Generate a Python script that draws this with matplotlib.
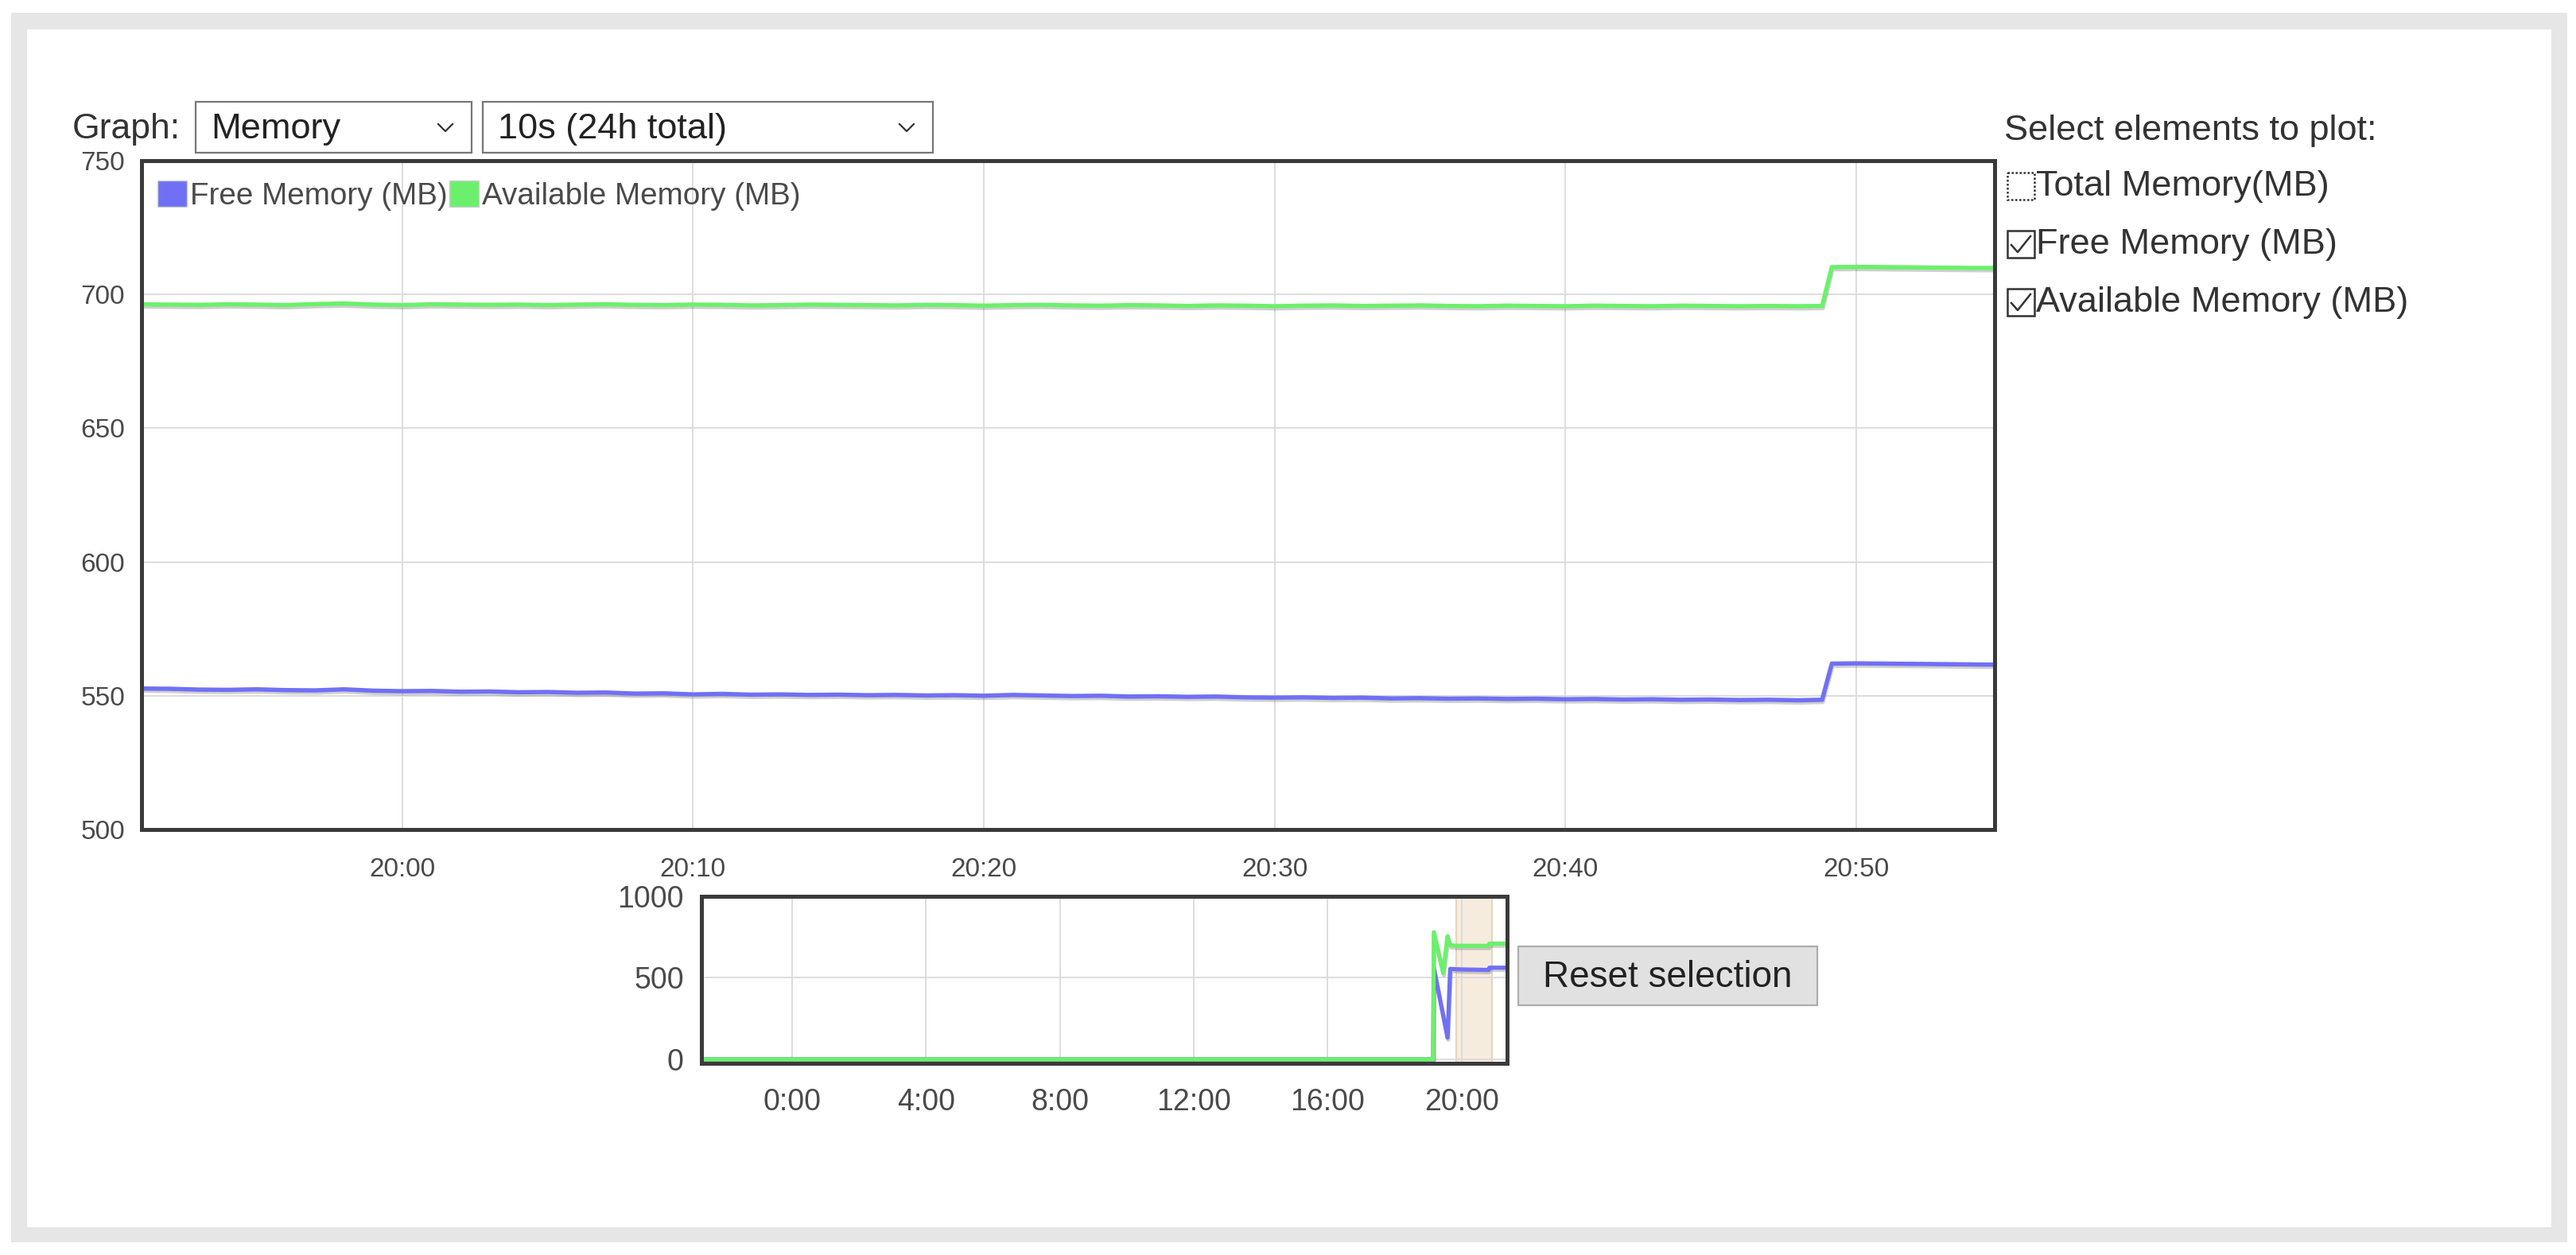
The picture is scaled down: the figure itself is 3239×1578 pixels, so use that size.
import matplotlib
matplotlib.use('Agg')
import matplotlib.pyplot as plt
from matplotlib.patches import Rectangle, Patch
import matplotlib.patheffects as pe

W, H = 3239, 1578
plt.rcParams['font.family'] = ['Liberation Sans', 'DejaVu Sans']

# ---------------- data ----------------
main_times = ['19:51', '19:52', '19:53', '19:54', '19:55', '19:56', '19:57', '19:58', '19:59',
              '20:00', '20:01', '20:02', '20:03', '20:04', '20:05', '20:06', '20:07', '20:08', '20:09',
              '20:10', '20:11', '20:12', '20:13', '20:14', '20:15', '20:16', '20:17', '20:18', '20:19',
              '20:20', '20:21', '20:22', '20:23', '20:24', '20:25', '20:26', '20:27', '20:28', '20:29',
              '20:30', '20:31', '20:32', '20:33', '20:34', '20:35', '20:36', '20:37', '20:38', '20:39',
              '20:40', '20:41', '20:42', '20:43', '20:44', '20:45', '20:46', '20:47', '20:48',
              '20:48:50', '20:49:10', '20:50', '20:51', '20:52', '20:53', '20:54', '20:55']

free_memory = [552.7, 552.6, 552.3, 552.2, 552.4, 552.1, 552.0, 552.4, 551.9,
               551.7, 551.8, 551.5, 551.6, 551.3, 551.4, 551.1, 551.2, 550.8, 550.9,
               550.5, 550.7, 550.4, 550.5, 550.3, 550.4, 550.2, 550.3, 550.1, 550.2,
               550.0, 550.3, 550.1, 549.9, 550.0, 549.7, 549.8, 549.6, 549.7, 549.4,
               549.3, 549.4, 549.2, 549.3, 549.0, 549.1, 548.9, 549.0, 548.8, 548.9,
               548.7, 548.8, 548.6, 548.7, 548.5, 548.6, 548.4, 548.5, 548.3,
               548.5, 562.0, 562.1, 562.0, 561.9, 561.8, 561.7, 561.6]

available_memory = [696.3, 696.2, 696.1, 696.3, 696.2, 696.0, 696.4, 696.6, 696.2,
                    696.0, 696.3, 696.2, 696.1, 696.2, 696.0, 696.2, 696.3, 696.1, 696.0,
                    696.2, 696.1, 695.9, 696.0, 696.2, 696.1, 696.0, 695.9, 696.1, 696.0,
                    695.8, 696.0, 696.1, 695.9, 695.8, 696.0, 695.9, 695.7, 695.9, 695.8,
                    695.6, 695.8, 695.9, 695.7, 695.8, 695.9, 695.7, 695.6, 695.8, 695.7,
                    695.6, 695.8, 695.7, 695.6, 695.8, 695.7, 695.6, 695.7, 695.6,
                    695.7, 710.2, 710.3, 710.2, 710.1, 710.0, 709.9, 709.9]

main_xticks = ['20:00', '20:10', '20:20', '20:30', '20:40', '20:50']
main_yticks = [500, 550, 600, 650, 700, 750]
main_xrange = ['19:51:02', '20:54:46']

# overview (24h), time in hours relative to midnight
ov_free_hours = [-2.71, 19.15, 19.17, 19.58, 19.66, 19.85, 20.81, 20.83, 21.36]
ov_free = [0, 0, 560, 133, 555, 552, 548, 562, 562]
ov_avail_hours = [-2.71, 19.15, 19.17, 19.45, 19.58, 19.66, 19.85, 20.81, 20.83, 21.36]
ov_avail = [0, 0, 780, 530, 755, 700, 696, 696, 710, 710]
ov_xticks = ['0:00', '4:00', '8:00', '12:00', '16:00', '20:00']
ov_yticks = [0, 500, 1000]
ov_xrange = [-2.71, 21.36]

series_names = ['Free Memory (MB)', 'Available Memory (MB)']
checkbox_items = ['Total Memory(MB)', 'Free Memory (MB)', 'Available Memory (MB)']
checkbox_state = [False, True, True]

BLUE = '#7070f5'
GREEN = '#6cf06c'
TXT = '#333333'
TICK = '#4a4a4a'
GRID = '#dadada'
FRAME = '#3a3a3a'


def to_h(s):
    p = s.split(':')
    v = int(p[0]) + int(p[1]) / 60.0
    if len(p) == 3:
        v += int(p[2]) / 3600.0
    return v


fig = plt.figure(figsize=(W / 100, H / 100), dpi=100)
fig.patch.set_facecolor('white')

# background layer in pixel coordinates
bg = fig.add_axes([0, 0, 1, 1], zorder=0)
bg.set_xlim(0, W)
bg.set_ylim(H, 0)
bg.axis('off')
bg.add_patch(Rectangle((14, 16), 3214, 1546, facecolor='#e6e6e6', edgecolor='none'))
bg.add_patch(Rectangle((34, 37), 3174, 1506, facecolor='white', edgecolor='none'))

# header controls
bg.text(91, 162, 'Graph:', fontsize=32, color=TXT, va='center', ha='left')
for (x0, w, label) in [(246, 347, 'Memory'), (607, 566, '10s (24h total)')]:
    bg.add_patch(Rectangle((x0, 128), w, 64, facecolor='white', edgecolor='#777777', lw=1.6))
    bg.text(x0 + 19, 162, label, fontsize=32.5, color='#222222', va='center', ha='left')
    cx = x0 + w - 33
    bg.plot([cx - 9, cx, cx + 9], [156, 165, 156], color='#333333', lw=1.6)

# checkbox panel
bg.text(2520, 164, 'Select elements to plot:', fontsize=32.5, color=TXT, va='center', ha='left')
for i, (item, state) in enumerate(zip(checkbox_items, checkbox_state)):
    yc = 234 + i * 73
    bx, by, bs = 2524, yc - 17, 34
    bg.add_patch(Rectangle((bx, by), bs, bs, facecolor='white', edgecolor='#333333',
                           lw=1.8, ls=(0, (1, 1)) if not state else '-'))
    if state:
        bg.plot([bx + 5, bx + 13, bx + 29], [yc + 1, yc + 10, yc - 10], color='#333333', lw=1.8)
    bg.text(2560, yc, item, fontsize=32.5, color=TXT, va='center', ha='left')

# reset button
bg.add_patch(Rectangle((1909, 1190), 376, 74, facecolor='#e1e1e1', edgecolor='#adadad', lw=1.6))
bg.text(1909 + 188, 1229, 'Reset selection', fontsize=33, color='#222222', va='center', ha='center')


def px_axes(x0, y0, x1, y1, z=2):
    return fig.add_axes([x0 / W, 1 - y1 / H, (x1 - x0) / W, (y1 - y0) / H], zorder=z)


shadow = [pe.SimpleLineShadow(offset=(0.6, -2.0), shadow_color='#777777', alpha=0.35), pe.Normal()]

# ---------------- main chart ----------------
ax = px_axes(178, 202, 2508, 1043)
xs = [to_h(t) for t in main_times]
ax.plot(xs, free_memory, color=BLUE, lw=3.9, solid_joinstyle='round', path_effects=shadow)
ax.plot(xs, available_memory, color=GREEN, lw=3.9, solid_joinstyle='round', path_effects=shadow)
ax.set_xlim(to_h(main_xrange[0]), to_h(main_xrange[1]))
ax.set_ylim(main_yticks[0], main_yticks[-1])
ax.set_xticks([to_h(t) for t in main_xticks])
ax.set_xticklabels(main_xticks)
ax.set_yticks(main_yticks)
ax.set_yticklabels([str(v) for v in main_yticks])
ax.tick_params(length=0, labelsize=24, labelcolor=TICK)
ax.tick_params(axis='x', pad=25)
ax.tick_params(axis='y', pad=15)
ax.grid(True, color=GRID, lw=1.3)
ax.set_axisbelow(True)
for s in ax.spines.values():
    s.set_linewidth(3.6)
    s.set_color(FRAME)
handles = [Patch(facecolor=BLUE, edgecolor='#cfcfcf', lw=1),
           Patch(facecolor=GREEN, edgecolor='#cfcfcf', lw=1)]
leg = ax.legend(handles, series_names, loc='upper left', bbox_to_anchor=(20 / 2330, 1 - 25 / 841),
                ncol=2, frameon=False, fontsize=27.8, handlelength=0.95, handleheight=0.95,
                handletextpad=0.1, columnspacing=0.08, borderaxespad=0, borderpad=0)
for t in leg.get_texts():
    t.set_color(TICK)

# ---------------- overview chart ----------------
ov = px_axes(882, 1127, 1895, 1337)
ov.axvspan(to_h(main_xrange[0]), to_h(main_xrange[1]), facecolor='#f6ecde', edgecolor='#e3d5c0', lw=1.5, zorder=0)
ov.plot(ov_free_hours, ov_free, color=BLUE, lw=3.8, path_effects=shadow)
ov.plot(ov_avail_hours, ov_avail, color=GREEN, lw=3.8, path_effects=shadow)
ov.set_xlim(*ov_xrange)
ov.set_ylim(-25, ov_yticks[-1])
ov.set_xticks([to_h(t) for t in ov_xticks])
ov.set_xticklabels(ov_xticks)
ov.set_yticks(ov_yticks)
ov.set_yticklabels([str(v) for v in ov_yticks])
ov.tick_params(length=0, labelsize=27, labelcolor=TICK)
ov.tick_params(axis='x', pad=22)
ov.tick_params(axis='y', pad=16)
ov.grid(True, color=GRID, lw=1.3)
ov.set_axisbelow(True)
for s in ov.spines.values():
    s.set_linewidth(3.6)
    s.set_color(FRAME)

fig.savefig('out.png', dpi=100, facecolor='white')
